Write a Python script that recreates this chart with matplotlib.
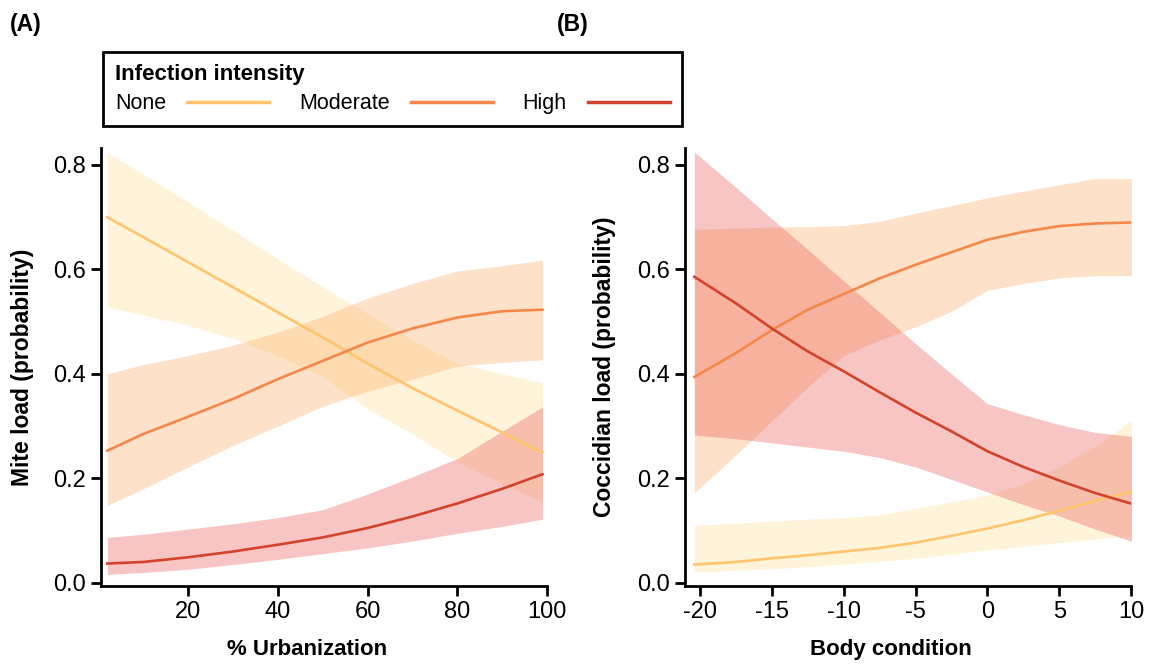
import matplotlib.pyplot as plt

plt.rcParams['font.family'] = ['Liberation Sans', 'DejaVu Sans']
plt.rcParams['axes.unicode_minus'] = False

# --- Panel A : mite load vs % urbanization ---
urban = [2, 10, 20, 30, 40, 50, 60, 70, 80, 90, 99]
mite_none = [0.700, 0.662, 0.614, 0.566, 0.518, 0.470, 0.420, 0.373, 0.330, 0.288, 0.250]
mite_none_lo = [0.528, 0.513, 0.493, 0.468, 0.435, 0.395, 0.333, 0.285, 0.232, 0.190, 0.155]
mite_none_hi = [0.823, 0.783, 0.729, 0.675, 0.620, 0.567, 0.515, 0.465, 0.420, 0.400, 0.383]
mite_mod = [0.253, 0.285, 0.318, 0.352, 0.390, 0.425, 0.460, 0.487, 0.508, 0.520, 0.523]
mite_mod_lo = [0.148, 0.180, 0.222, 0.263, 0.300, 0.338, 0.367, 0.390, 0.415, 0.422, 0.427]
mite_mod_hi = [0.400, 0.418, 0.435, 0.455, 0.480, 0.510, 0.545, 0.573, 0.597, 0.607, 0.618]
mite_high = [0.037, 0.040, 0.049, 0.060, 0.073, 0.087, 0.105, 0.127, 0.152, 0.180, 0.208]
mite_high_lo = [0.016, 0.020, 0.026, 0.035, 0.045, 0.056, 0.067, 0.080, 0.095, 0.108, 0.122]
mite_high_hi = [0.087, 0.093, 0.103, 0.113, 0.125, 0.140, 0.170, 0.203, 0.238, 0.290, 0.337]

# --- Panel B : coccidian load vs body condition ---
body = [-20.4, -17.5, -15, -12.5, -10, -7.5, -5, -2.5, 0, 2.5, 5, 7.5, 10.1]
coc_none = [0.035, 0.040, 0.047, 0.053, 0.060, 0.067, 0.077, 0.090, 0.104, 0.120, 0.138, 0.157, 0.175]
coc_none_lo = [0.021, 0.024, 0.027, 0.031, 0.036, 0.041, 0.047, 0.055, 0.063, 0.070, 0.077, 0.084, 0.090]
coc_none_hi = [0.110, 0.114, 0.118, 0.122, 0.125, 0.130, 0.143, 0.155, 0.168, 0.190, 0.222, 0.262, 0.312]
coc_mod = [0.394, 0.440, 0.484, 0.523, 0.553, 0.583, 0.609, 0.633, 0.657, 0.672, 0.683, 0.688, 0.690]
coc_mod_lo = [0.172, 0.245, 0.310, 0.375, 0.435, 0.465, 0.490, 0.520, 0.560, 0.573, 0.584, 0.588, 0.588]
coc_mod_hi = [0.677, 0.679, 0.681, 0.682, 0.684, 0.692, 0.708, 0.722, 0.737, 0.750, 0.762, 0.774, 0.774]
coc_high = [0.586, 0.535, 0.487, 0.443, 0.405, 0.365, 0.326, 0.290, 0.252, 0.222, 0.196, 0.172, 0.151]
coc_high_lo = [0.283, 0.276, 0.268, 0.260, 0.252, 0.240, 0.222, 0.198, 0.174, 0.150, 0.128, 0.103, 0.079]
coc_high_hi = [0.825, 0.757, 0.697, 0.638, 0.578, 0.518, 0.458, 0.400, 0.343, 0.322, 0.303, 0.288, 0.280]

levels = ['None', 'Moderate', 'High']
line_colors = ['#FFC46C', '#F5874A', '#D3432C']
fill_colors = ['#FFD97A', '#F9A55A', '#E8504E']
fill_alphas = [0.28, 0.33, 0.33]

W, H = 1151, 664
fig = plt.figure(figsize=(W / 100, H / 100), dpi=100)
ax1 = fig.add_axes([101 / W, 1 - 586 / H, 446 / W, 438 / H])
ax2 = fig.add_axes([685 / W, 1 - 586 / H, 446 / W, 438 / H])


def draw_panel(ax, x, series, xlim, xticks, xlabel, ylabel):
    lines = []
    for (mid, lo, hi), fc, a in zip(series, fill_colors, fill_alphas):
        ax.fill_between(x, lo, hi, color=fc, alpha=a, linewidth=0)
    for (mid, lo, hi), lc in zip(series, line_colors):
        ln, = ax.plot(x, mid, color=lc, lw=1.9)
        lines.append(ln)
    ax.set_xlim(*xlim)
    ax.set_ylim(-0.006, 0.8325)
    ax.set_xticks(xticks)
    ax.set_yticks([0, 0.2, 0.4, 0.6, 0.8])
    ax.set_yticklabels(['0.0', '0.2', '0.4', '0.6', '0.8'])
    for s in ['top', 'right']:
        ax.spines[s].set_visible(False)
    for s in ['left', 'bottom']:
        ax.spines[s].set_linewidth(2)
    ax.tick_params(direction='out', length=7, width=2, labelsize=17, pad=4)
    ax.set_xlabel(xlabel, fontsize=16, fontweight='bold')
    ax.set_ylabel(ylabel, fontsize=16.5, fontweight='bold')
    return lines


lines = draw_panel(ax1, urban,
                   [(mite_none, mite_none_lo, mite_none_hi),
                    (mite_mod, mite_mod_lo, mite_mod_hi),
                    (mite_high, mite_high_lo, mite_high_hi)],
                   (0.6, 100), [20, 40, 60, 80, 100],
                   '% Urbanization', 'Mite load (probability)')
draw_panel(ax2, body,
           [(coc_none, coc_none_lo, coc_none_hi),
            (coc_mod, coc_mod_lo, coc_mod_hi),
            (coc_high, coc_high_lo, coc_high_hi)],
           (-21.05, 10), [-20, -15, -10, -5, 0, 5, 10],
           'Body condition', 'Coccidian load (probability)')

ax1.xaxis.set_label_coords(0.461, -0.121)
ax2.xaxis.set_label_coords(0.462, -0.121)
ax1.yaxis.set_label_coords(-0.15, 0.5)
ax2.yaxis.set_label_coords(-0.155, 0.5)

# legend across the top
leg = fig.legend(lines, levels, loc='upper left',
                 bbox_to_anchor=(103 / W, 1 - 127 / H, 579 / W, 75 / H),
                 mode='expand', ncol=3, markerfirst=False,
                 title='Infection intensity', alignment='left',
                 title_fontproperties={'weight': 'bold', 'size': 16},
                 fontsize=15.5, handlelength=3.8, handletextpad=1.0,
                 fancybox=False, framealpha=1, borderpad=0.55,
                 labelspacing=0.4, borderaxespad=0)
leg.get_frame().set_edgecolor('black')
leg.get_frame().set_linewidth(2)
for h in leg.legend_handles:
    h.set_linewidth(2.5)

fig.text(10 / W, 1 - 24 / H, '(A)', fontsize=16.5, fontweight='bold', va='center')
fig.text(557 / W, 1 - 24 / H, '(B)', fontsize=16.5, fontweight='bold', va='center')

fig.savefig('out.png', dpi=100)
